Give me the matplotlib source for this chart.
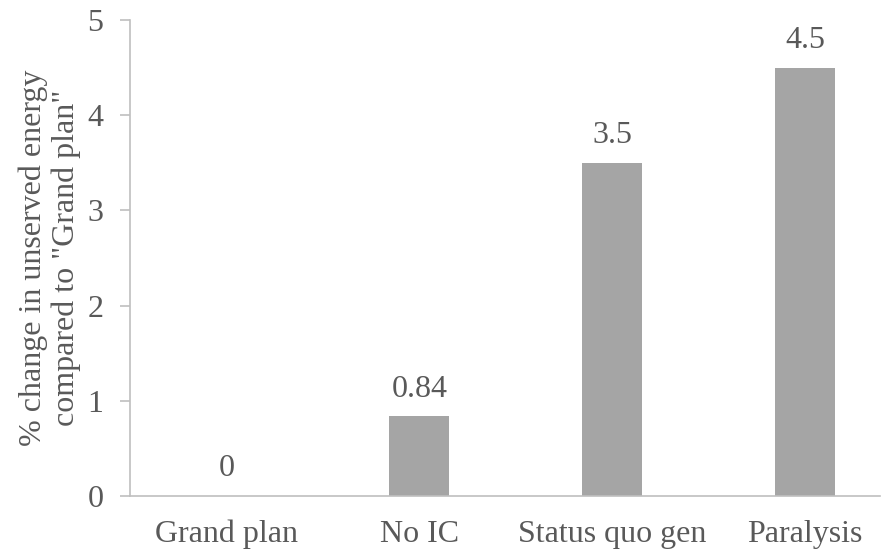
import matplotlib
matplotlib.use("Agg")
import matplotlib.pyplot as plt
import numpy as np

# data
scenarios = ["Grand plan", "No IC", "Status quo gen", "Paralysis"]
change_pct = [0, 0.84, 3.5, 4.5]
value_labels = ["0", "0.84", "3.5", "4.5"]

plt.rcParams['font.family'] = ['Liberation Serif', 'DejaVu Serif']
textcol = "#595959"
spinecol = "#BFBFBF"
fs = 23

fig = plt.figure(figsize=(8.88, 5.5), dpi=100)
ax = fig.add_axes([0.1464, 0.0982, 0.845, 0.8654])

x = np.arange(len(scenarios))
bars = ax.bar(x, change_pct, width=0.31, color="#A5A5A5", zorder=2)

for b, lab in zip(bars, value_labels):
    ax.annotate(lab, (b.get_x() + b.get_width() / 2, b.get_height()),
                xytext=(0, 9), textcoords="offset points",
                ha="center", va="bottom", fontsize=fs, color=textcol)

ax.set_xlim(-0.5, 3.39)
ax.set_ylim(0, 5)
ax.set_yticks(range(0, 6))
ax.set_xticks(x)
ax.set_xticklabels(scenarios)

ax.spines["top"].set_visible(False)
ax.spines["right"].set_visible(False)
ax.spines["left"].set_color(spinecol)
ax.spines["bottom"].set_color(spinecol)
ax.spines["left"].set_linewidth(1.2)
ax.spines["bottom"].set_linewidth(1.2)

ax.tick_params(axis="y", length=7, width=1.2, color=spinecol, labelsize=fs,
               labelcolor=textcol, pad=12)
ax.tick_params(axis="x", length=0, labelsize=fs, labelcolor=textcol, pad=17)

ax.set_ylabel('% change in unserved energy\ncompared to "Grand plan"',
              fontsize=fs, color=textcol, labelpad=5, linespacing=1.15)

fig.savefig("out.png", dpi=100)
